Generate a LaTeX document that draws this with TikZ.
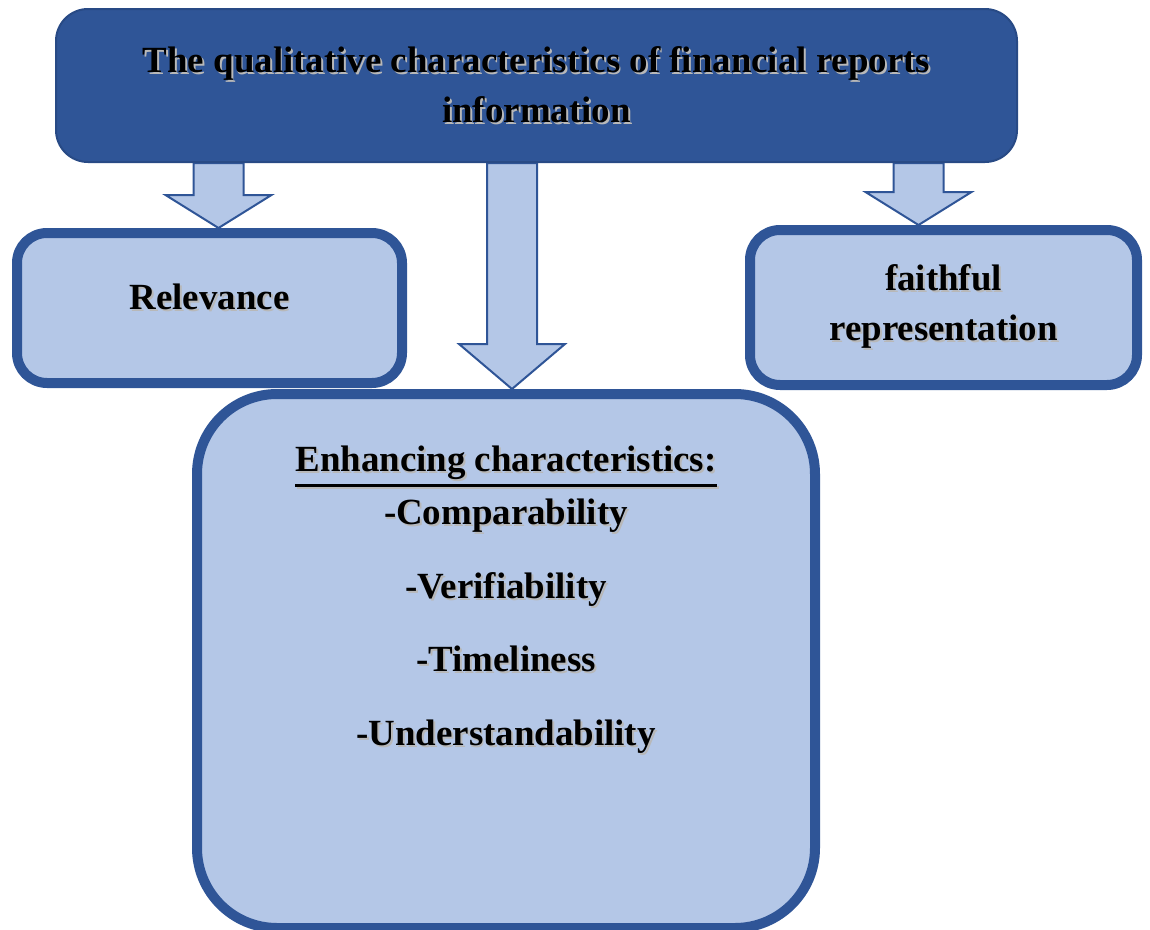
\documentclass[tikz,border=0pt]{standalone}
\usepackage{fontspec}
\setmainfont{Liberation Serif}
\usetikzlibrary{calc,positioning}
\definecolor{rpblue}{RGB}{47,85,151}
\definecolor{rpdark}{RGB}{40,74,133}
\definecolor{rplight}{RGB}{180,199,231}
\newlength{\dpx}\setlength{\dpx}{0.02cm}
% bold text with a soft grey drop shadow
\newcommand{\shtxt}[1]{\leavevmode\rlap{\kern1.1pt\raisebox{-1.1pt}{\color{black!28}#1}}#1}
% heavier underline than \underline
\newcommand{\thickul}[1]{\vtop{\hbox{#1}\kern2.2pt\hrule height 1.5pt}}
% wide block arrow: #1 start, #2 tip, #3 head length
\newcommand{\blockarrow}[3]{%
  \draw[barrow] let \p1=#1, \p2=#2 in
    (\x2-25\dpx,\y1) -- (\x2-25\dpx,\y2+#3) -- (\x2-53\dpx,\y2+#3) -- (\x2,\y2)
    -- (\x2+53\dpx,\y2+#3) -- (\x2+25\dpx,\y2+#3) -- (\x2+25\dpx,\y1) -- cycle;}
\pgfdeclarelayer{bg}
\pgfsetlayers{bg,main}

\begin{document}
\begin{tikzpicture}[x=0.02cm,y=-0.02cm,
      txt/.style={font=\bfseries\fontsize{21}{28.5}\selectfont,align=center},
      hbox/.style={txt,draw=rpdark,fill=rpblue,line width=2\dpx,rounded corners=32\dpx,
        minimum width=961\dpx,minimum height=153\dpx},
      sbox/.style={txt,draw=rpblue,fill=rplight,line width=10\dpx,rounded corners=30\dpx},
      barrow/.style={draw=rpblue,fill=rplight,line width=2\dpx}]
  \useasboundingbox (0,0) rectangle (1150,930);

  \node[hbox] (top) at (536.5,85.5)
    {\shtxt{The qualitative characteristics of financial reports}\\ \shtxt{information}};
  \node[sbox,minimum width=385\dpx,minimum height=150\dpx,text depth=22\dpx] (rel) at (209.5,308)
    {\shtxt{Relevance}};
  \node[sbox,minimum width=387\dpx,minimum height=155\dpx] (fr) at (943.5,307.5)
    {\shtxt{faithful}\\ \shtxt{representation}};
  \node[sbox,rounded corners=80\dpx,minimum width=618\dpx,minimum height=534\dpx] (enh) at (506,661) {};
  \node[txt,inner sep=0,below=57\dpx of enh.north] (enhlist)
    {\shtxt{\thickul{Enhancing characteristics:}}\\[1.5pt]
     \shtxt{-Comparability}\\[13.4pt]
     \shtxt{-Verifiability}\\[13.4pt]
     \shtxt{-Timeliness}\\[13.4pt]
     \shtxt{-Understandability}};

  \begin{pgfonlayer}{bg}
    \blockarrow{(top.south)}{([xshift=9\dpx]rel.north)}{33\dpx}
    \blockarrow{(top.south)}{([xshift=6\dpx]enh.north)}{45\dpx}
    \blockarrow{(top.south)}{([xshift=-25\dpx]fr.north)}{33\dpx}
  \end{pgfonlayer}
\end{tikzpicture}
\end{document}
